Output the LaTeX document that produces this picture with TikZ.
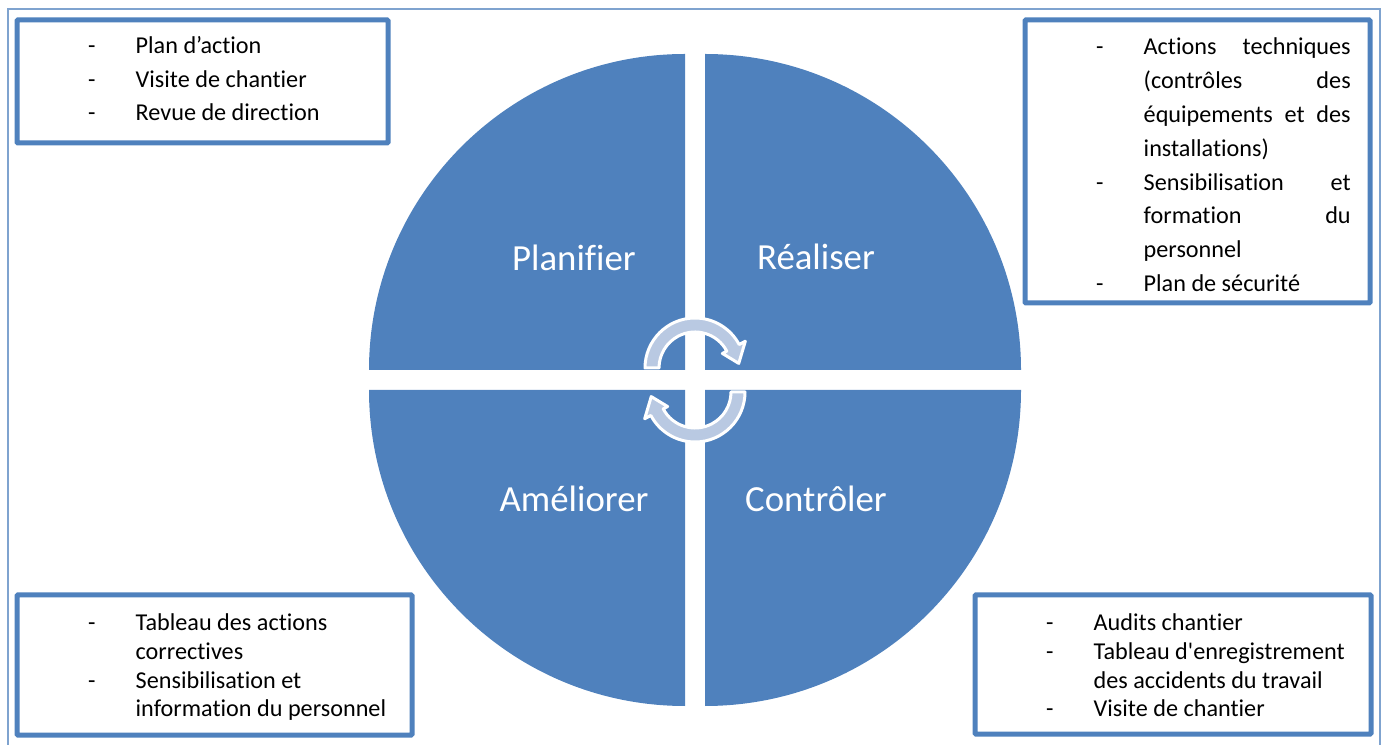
\documentclass[tikz,border=0pt]{standalone}
\usepackage{fontspec}
\setmainfont{Carlito}[Ligatures={TeXOff,NoCommon}]
\definecolor{qblue}{HTML}{4F81BD}
\definecolor{arrowblue}{HTML}{B9C9E2}
\definecolor{framecol}{HTML}{7FA3CF}
\newcommand{\dashitem}{\makebox[47.5pt][l]{-}}
\newcommand{\contline}{\hspace*{47.5pt}}
\begin{document}
\begin{tikzpicture}[x=1pt,y=1pt,
  quad/.style={fill=qblue},
  lab/.style={text=white, font=\fontsize{36.8}{44}\selectfont, anchor=base, inner sep=0pt},
  box/.style={draw=qblue, line width=5pt, fill=white, rounded corners=1pt},
  btext/.style={anchor=base west, inner sep=0pt, text=black},
  cyc/.style={fill=arrowblue, draw=white, line width=3pt, line join=round}]
\useasboundingbox (0,0) rectangle (1386,744);
% outer frame
\draw[framecol, line width=1.3pt] (8,-5) -- (8,735) -- (1380,735) -- (1380,-5);
% quadrants
\fill[quad] (685,374) -- ++(-316,0) arc[start angle=180, end angle=90, radius=316] -- cycle;
\fill[quad] (705,374) -- ++(0,316) arc[start angle=90, end angle=0, radius=316] -- cycle;
\fill[quad] (685,354) -- ++(-316,0) arc[start angle=180, end angle=270, radius=316] -- cycle;
\fill[quad] (705,354) -- ++(316,0) arc[start angle=0, end angle=-90, radius=316] -- cycle;
\node[lab] (plan) at (574,473) {Planifier};
\node[lab] (real) at (816,474) {Réaliser};
\node[lab] (amel) at (574,232.3) {Améliorer};
\node[lab] (ctrl) at (816,232.3) {Contrôler};
% cycle arrows
\begin{scope}[shift={(695,376)}]
\draw[cyc] (180:50) arc[start angle=180, end angle=28, radius=50] -- (28:57) -- (6:44) -- (28:31) -- (28:36) arc[start angle=28, end angle=180, radius=36] -- cycle;
\end{scope}
\begin{scope}[shift={(695,352)}]
\draw[cyc] (0:50) arc[start angle=0, end angle=-152, radius=50] -- (-152:57) -- (-174:44) -- (-152:31) -- (-152:36) arc[start angle=-152, end angle=0, radius=36] -- cycle;
\end{scope}
% boxes
\draw[box] (17,724) rectangle (388,601);
\draw[box] (1025,724) rectangle (1370,441);
\draw[box] (17,149) rectangle (412,9);
\draw[box] (975,149) rectangle (1371,10);
% texts
\node[btext, font=\fontsize{24.2}{33.4}\selectfont] (tl) at (88,690) {\parbox[t]{320pt}{\dashitem Plan d’action\\ \dashitem Visite de chantier\\ \dashitem Revue de direction}};
\node[btext, font=\fontsize{24.2}{33.8}\selectfont] (tr) at (1096,689) {\parbox[t]{270pt}{%
\dashitem\makebox[207pt][s]{Actions techniques}\\
\contline\makebox[207pt][s]{(contrôles des}\\
\contline\makebox[207pt][s]{équipements et des}\\
\contline installations)\\
\dashitem\makebox[207pt][s]{Sensibilisation et}\\
\contline\makebox[207pt][s]{formation du}\\
\contline personnel\\
\dashitem Plan de sécurité}};
\node[btext, font=\fontsize{24.2}{28.7}\selectfont] (bl) at (88,113.3) {\parbox[t]{330pt}{\dashitem Tableau des actions\\ \contline correctives\\ \dashitem Sensibilisation et\\ \contline information du personnel}};
\node[btext, font=\fontsize{24.2}{28.7}\selectfont] (br) at (1046,113.3) {\parbox[t]{330pt}{\dashitem Audits chantier\\ \dashitem Tableau d'enregistrement\\ \contline des accidents du travail\\ \dashitem Visite de chantier}};
\end{tikzpicture}
\end{document}
